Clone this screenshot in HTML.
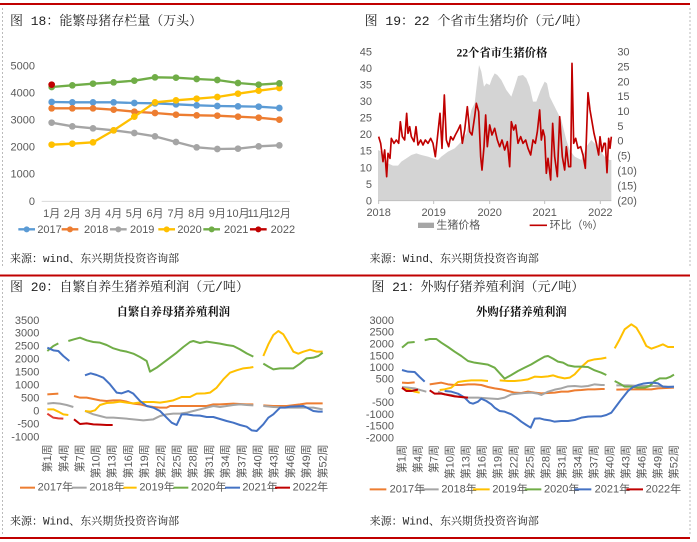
<!DOCTYPE html>
<html><head><meta charset="utf-8"><style>
html,body{margin:0;padding:0;background:#fff;}
svg{display:block;font-family:"Liberation Sans","Noto Sans CJK SC",sans-serif;}
.t{font-family:"Liberation Mono","Noto Serif CJK SC",serif;font-size:39px;fill:#222;}
.a{font-size:33px;fill:#595959;}
.s{font-family:"Liberation Mono","Noto Serif CJK SC",serif;font-size:33px;fill:#222;}
.ct{font-family:"Liberation Serif","Noto Serif CJK SC",serif;font-size:34px;font-weight:bold;fill:#111;}
polyline{fill:none;stroke-linejoin:round;}
</style></head><body>
<svg width="697" height="542" viewBox="0 0 697 542" xmlns="http://www.w3.org/2000/svg">
<rect x="0" y="0" width="697" height="542" fill="#fff"/>
<line x1="0" y1="4" x2="690" y2="4" stroke="#c00000" stroke-width="2"/>
<line x1="0" y1="275.5" x2="690" y2="275.5" stroke="#c00000" stroke-width="2"/>
<line x1="0" y1="538" x2="690" y2="538" stroke="#c00000" stroke-width="2"/>
<line x1="2.5" y1="8" x2="2.5" y2="268" stroke="#bbb" stroke-dasharray="2,2"/>
<line x1="2.5" y1="280" x2="2.5" y2="534" stroke="#bbb" stroke-dasharray="2,2"/>
<line x1="690" y1="8" x2="690" y2="268" stroke="#bbb" stroke-dasharray="2,2"/>
<line x1="690" y1="280" x2="690" y2="534" stroke="#bbb" stroke-dasharray="2,2"/>

<!-- Panel 1 -->
<g transform="scale(0.33333)">
<text class="t" x="30" y="75">图 18：能繁母猪存栏量（万头）</text>
<g class="a" text-anchor="end">
<text x="105" y="208">5000</text><text x="105" y="289">4000</text><text x="105" y="371">3000</text>
<text x="105" y="452">2000</text><text x="105" y="533">1000</text><text x="105" y="615">0</text></g>
<line x1="125" y1="604" x2="870" y2="604" stroke="#d9d9d9" stroke-width="3"/>
<g class="a" text-anchor="middle">
<text x="155" y="651">1月</text><text x="217" y="651">2月</text><text x="279" y="651">3月</text><text x="341" y="651">4月</text>
<text x="403" y="651">5月</text><text x="465" y="651">6月</text><text x="528" y="651">7月</text><text x="590" y="651">8月</text>
<text x="652" y="651">9月</text><text x="714" y="651">10月</text><text x="776" y="651">11月</text><text x="838" y="651">12月</text></g>
<g stroke-width="7">
<polyline stroke="#5b9bd5" points="155,306 217,307 279,307 341,307 403,309 465,310 528,313 590,316 652,318 714,319 776,320 838,324"/>
<polyline stroke="#ed7d31" points="155,325 217,325 279,325 341,329 403,335 465,339 528,344 590,346 652,347 714,350 776,353 838,359"/>
<polyline stroke="#a5a5a5" points="155,368 217,379 279,385 341,391 403,399 465,409 528,426 590,442 652,447 714,446 776,439 838,436"/>
<polyline stroke="#ffc000" points="155,434 217,431 279,427 341,391 403,350 465,307 528,301 590,296 652,291 714,281 776,272 838,264"/>
<polyline stroke="#70ad47" points="155,261 217,256 279,251 341,247 403,242 465,232 528,233 590,237 652,240 714,249 776,254 838,250"/>
</g>
<g fill="#5b9bd5"><circle cx="155" cy="306" r="10"/><circle cx="217" cy="307" r="10"/><circle cx="279" cy="307" r="10"/><circle cx="341" cy="307" r="10"/><circle cx="403" cy="309" r="10"/><circle cx="465" cy="310" r="10"/><circle cx="528" cy="313" r="10"/><circle cx="590" cy="316" r="10"/><circle cx="652" cy="318" r="10"/><circle cx="714" cy="319" r="10"/><circle cx="776" cy="320" r="10"/><circle cx="838" cy="324" r="10"/></g>
<g fill="#ed7d31"><circle cx="155" cy="325" r="10"/><circle cx="217" cy="325" r="10"/><circle cx="279" cy="325" r="10"/><circle cx="341" cy="329" r="10"/><circle cx="403" cy="335" r="10"/><circle cx="465" cy="339" r="10"/><circle cx="528" cy="344" r="10"/><circle cx="590" cy="346" r="10"/><circle cx="652" cy="347" r="10"/><circle cx="714" cy="350" r="10"/><circle cx="776" cy="353" r="10"/><circle cx="838" cy="359" r="10"/></g>
<g fill="#a5a5a5"><circle cx="155" cy="368" r="10"/><circle cx="217" cy="379" r="10"/><circle cx="279" cy="385" r="10"/><circle cx="341" cy="391" r="10"/><circle cx="403" cy="399" r="10"/><circle cx="465" cy="409" r="10"/><circle cx="528" cy="426" r="10"/><circle cx="590" cy="442" r="10"/><circle cx="652" cy="447" r="10"/><circle cx="714" cy="446" r="10"/><circle cx="776" cy="439" r="10"/><circle cx="838" cy="436" r="10"/></g>
<g fill="#ffc000"><circle cx="155" cy="434" r="10"/><circle cx="217" cy="431" r="10"/><circle cx="279" cy="427" r="10"/><circle cx="341" cy="391" r="10"/><circle cx="403" cy="350" r="10"/><circle cx="465" cy="307" r="10"/><circle cx="528" cy="301" r="10"/><circle cx="590" cy="296" r="10"/><circle cx="652" cy="291" r="10"/><circle cx="714" cy="281" r="10"/><circle cx="776" cy="272" r="10"/><circle cx="838" cy="264" r="10"/></g>
<g fill="#70ad47"><circle cx="155" cy="261" r="10"/><circle cx="217" cy="256" r="10"/><circle cx="279" cy="251" r="10"/><circle cx="341" cy="247" r="10"/><circle cx="403" cy="242" r="10"/><circle cx="465" cy="232" r="10"/><circle cx="528" cy="233" r="10"/><circle cx="590" cy="237" r="10"/><circle cx="652" cy="240" r="10"/><circle cx="714" cy="249" r="10"/><circle cx="776" cy="254" r="10"/><circle cx="838" cy="250" r="10"/></g>
<circle cx="155" cy="254" r="10" fill="#c00000"/>
<g class="a" font-size="34">
<line x1="55" y1="688" x2="105" y2="688" stroke="#5b9bd5" stroke-width="7"/><circle cx="80" cy="688" r="9" fill="#5b9bd5"/><text x="112" y="699">2017</text>
<line x1="185" y1="688" x2="235" y2="688" stroke="#ed7d31" stroke-width="7"/><circle cx="210" cy="688" r="9" fill="#ed7d31"/><text x="252" y="699">2018</text>
<line x1="330" y1="688" x2="380" y2="688" stroke="#a5a5a5" stroke-width="7"/><circle cx="355" cy="688" r="9" fill="#a5a5a5"/><text x="390" y="699">2019</text>
<line x1="475" y1="688" x2="525" y2="688" stroke="#ffc000" stroke-width="7"/><circle cx="500" cy="688" r="9" fill="#ffc000"/><text x="532" y="699">2020</text>
<line x1="610" y1="688" x2="660" y2="688" stroke="#70ad47" stroke-width="7"/><circle cx="635" cy="688" r="9" fill="#70ad47"/><text x="672" y="699">2021</text>
<line x1="750" y1="688" x2="800" y2="688" stroke="#c00000" stroke-width="7"/><circle cx="775" cy="688" r="9" fill="#c00000"/><text x="812" y="699">2022</text>
</g>
<text class="s" x="30" y="786">来源：wind、东兴期货投资咨询部</text>
</g>

<!-- Panel 2 -->
<g transform="translate(348,0) scale(0.33333)">
<text class="t" x="50" y="75">图 19：22 个省市生猪均价（元/吨）</text>
<polygon fill="#d4d4d4" points="90,602 90,450 100,455 110,470 120,490 135,497 150,497 160,485 175,475 190,465 205,460 220,465 240,470 255,475 270,480 280,470 300,455 320,445 340,425 355,400 370,330 380,310 388,240 393,195 400,215 408,260 415,250 425,255 432,235 440,220 448,225 460,240 475,270 490,290 500,260 510,228 525,225 535,235 545,260 555,305 565,305 578,270 590,245 597,250 605,290 615,310 625,330 640,360 655,420 665,450 680,470 700,480 715,440 730,420 740,430 755,450 770,470 785,480 790,480 790,602"/>
<g class="a" text-anchor="end">
<text x="72" y="166">45</text><text x="72" y="216">40</text><text x="72" y="265">35</text><text x="72" y="315">30</text><text x="72" y="365">25</text>
<text x="72" y="414">20</text><text x="72" y="464">15</text><text x="72" y="514">10</text><text x="72" y="564">5</text><text x="72" y="613">0</text></g>
<g class="a"><text x="808" y="166">30</text><text x="808" y="211">25</text><text x="808" y="256">20</text><text x="808" y="300">15</text><text x="808" y="345">10</text><text x="808" y="390">5</text><text x="808" y="434">0</text></g>
<g class="a" fill="#ff5050"><text x="808" y="479">(5)</text><text x="808" y="524">(10)</text><text x="808" y="569">(15)</text><text x="808" y="613">(20)</text></g>
<line x1="90" y1="602" x2="790" y2="602" stroke="#bfbfbf" stroke-width="3"/>
<g stroke="#bfbfbf" stroke-width="3"><line x1="92" y1="602" x2="92" y2="612"/><line x1="257" y1="602" x2="257" y2="612"/><line x1="425" y1="602" x2="425" y2="612"/><line x1="590" y1="602" x2="590" y2="612"/><line x1="757" y1="602" x2="757" y2="612"/></g>
<g class="a" text-anchor="middle"><text x="92" y="648">2018</text><text x="257" y="648">2019</text><text x="425" y="648">2020</text><text x="590" y="648">2021</text><text x="757" y="648">2022</text></g>
<text class="ct" x="462" y="170" text-anchor="middle">22个省市生猪价格</text>
<polyline stroke="#c00000" stroke-width="5" points="92,410 98,430 105,485 110,450 116,530 120,460 126,475 130,415 138,430 145,420 152,430 157,365 163,410 170,420 176,340 180,400 185,380 190,410 198,425 204,380 210,435 218,420 225,435 232,420 240,430 248,415 255,430 262,470 268,415 276,340 282,445 289,285 295,420 302,440 308,410 315,420 322,405 330,390 337,375 343,430 350,390 358,320 365,395 372,405 380,350 385,310 392,335 398,470 402,510 408,440 413,345 418,440 425,375 432,405 440,385 448,420 455,440 462,420 470,450 478,425 485,500 490,365 497,390 503,375 510,430 518,410 525,430 533,420 540,445 548,465 555,420 562,430 568,395 575,330 580,420 585,390 590,410 595,520 600,475 608,540 614,370 620,470 628,530 635,350 643,470 650,510 655,440 662,500 668,500 672,190 677,430 683,415 690,445 698,440 705,465 712,505 720,278 726,330 732,365 738,400 745,430 752,465 756,410 762,455 768,430 772,430 777,518 782,415 786,445 790,410"/>
<rect x="210" y="668" width="48" height="16" fill="#a6a6a6"/><text class="a" x="265" y="686" font-size="30">生猪价格</text>
<line x1="545" y1="676" x2="597" y2="676" stroke="#c00000" stroke-width="5"/><text class="a" x="605" y="686" font-size="30">环比（%）</text>
<text class="s" x="65" y="786">来源：Wind、东兴期货投资咨询部</text>
</g>

<!-- Panel 3 -->
<g transform="translate(0,271) scale(0.33333)">
<text class="t" x="30" y="60">图 20：自繁自养生猪养殖利润（元/吨）</text>
<text class="ct" x="520" y="133" text-anchor="middle">自繁自养母猪养殖利润</text>
<g class="a" text-anchor="end">
<text x="118" y="159">3500</text><text x="118" y="197">3000</text><text x="118" y="236">2500</text><text x="118" y="275">2000</text><text x="118" y="314">1500</text>
<text x="118" y="353">1000</text><text x="118" y="392">500</text><text x="118" y="430">0</text><text x="118" y="469">-500</text><text x="118" y="508">-1000</text></g>
<g class="a" font-size="31" text-anchor="end">
<text transform="translate(153,520) rotate(-90)">第1周</text><text transform="translate(202,520) rotate(-90)">第4周</text><text transform="translate(250,520) rotate(-90)">第7周</text><text transform="translate(299,520) rotate(-90)">第10周</text><text transform="translate(347,520) rotate(-90)">第13周</text><text transform="translate(396,520) rotate(-90)">第16周</text><text transform="translate(444,520) rotate(-90)">第19周</text><text transform="translate(493,520) rotate(-90)">第22周</text><text transform="translate(542,520) rotate(-90)">第25周</text><text transform="translate(590,520) rotate(-90)">第28周</text><text transform="translate(639,520) rotate(-90)">第31周</text><text transform="translate(687,520) rotate(-90)">第34周</text><text transform="translate(736,520) rotate(-90)">第37周</text><text transform="translate(784,520) rotate(-90)">第40周</text><text transform="translate(833,520) rotate(-90)">第43周</text><text transform="translate(882,520) rotate(-90)">第46周</text><text transform="translate(930,520) rotate(-90)">第49周</text><text transform="translate(979,520) rotate(-90)">第52周</text></g>
<g stroke-width="6">
<polyline stroke="#ed7d31" points="142,370 175,368"/>
<polyline stroke="#ed7d31" points="222,375 240,380 260,380 300,388 320,390 340,388 360,388 380,392 400,398 420,400 440,405 460,408 480,410 500,410 510,405 540,405 580,405 620,405 640,400 660,400 700,398 740,400 760,400"/>
<polyline stroke="#ed7d31" points="790,403 820,405 860,405 900,400 920,397 968,397"/>
<polyline stroke="#a5a5a5" points="142,398 160,396 180,398 200,402 220,408"/>
<polyline stroke="#a5a5a5" points="255,420 280,430 300,435 320,440 340,440 370,442 400,445 430,448 460,445 480,435 500,430 520,428 540,428 560,425 580,420 600,415 620,410 640,405 660,408 680,405 700,402 720,400 740,402 760,403"/>
<polyline stroke="#a5a5a5" points="790,405 820,408 860,410 900,410 940,410 968,415"/>
<polyline stroke="#ffc000" points="142,415 160,415 175,422 190,430 205,432"/>
<polyline stroke="#ffc000" points="255,420 270,422 285,418 300,402 320,396 340,395 360,392 380,395 400,397 430,393 460,393 480,395 500,392 520,388 545,378 570,378 590,368 615,367 630,365 650,350 670,325 690,305 710,298 730,292 750,290 760,288"/>
<polyline stroke="#ffc000" points="790,255 805,220 820,192 835,180 850,190 865,215 880,242 895,248 910,242 930,236 950,242 968,242"/>
<polyline stroke="#70ad47" points="142,240 160,225 175,217"/>
<polyline stroke="#70ad47" points="205,210 222,205 240,200 260,208 280,213 300,215 320,222 340,232 360,238 380,242 400,248 420,258 440,270 450,302 470,290 490,275 510,260 530,245 550,228 570,213 580,210 600,216 620,212 640,215 660,218 680,222 700,225 720,235 740,247 760,257"/>
<polyline stroke="#70ad47" points="790,278 805,287 820,295 840,292 860,292 880,292 900,278 920,262 940,260 955,255 968,245"/>
<polyline stroke="#4472c4" points="142,230 160,238 175,240 190,255 208,270"/>
<polyline stroke="#4472c4" points="255,313 272,307 290,312 310,320 330,340 350,365 365,367 385,360 400,368 420,390 440,405 460,410 480,420 500,440 515,455 530,462 545,430 560,430 580,433 600,434 620,438 640,438 660,444 680,450 700,455 720,462 740,467 755,478 770,480 790,460 805,440 820,430 840,410 855,410 870,407 890,406 910,405 925,412 940,420 955,422 968,422"/>
<polyline stroke="#e03c31" points="142,428 160,440 175,442 190,443"/>
<polyline stroke="#c00000" points="222,445 240,459 260,457 280,460 300,461 320,462 338,462"/>
</g>
<g class="a" font-size="26">
<line x1="60" y1="650" x2="105" y2="650" stroke="#ed7d31" stroke-width="6"/><text x="113" y="659">2017年</text>
<line x1="215" y1="650" x2="260" y2="650" stroke="#a5a5a5" stroke-width="6"/><text x="268" y="659">2018年</text>
<line x1="370" y1="650" x2="410" y2="650" stroke="#ffc000" stroke-width="6"/><text x="418" y="659">2019年</text>
<line x1="520" y1="650" x2="565" y2="650" stroke="#70ad47" stroke-width="6"/><text x="573" y="659">2020年</text>
<line x1="675" y1="650" x2="720" y2="650" stroke="#4472c4" stroke-width="6"/><text x="727" y="659">2021年</text>
<line x1="825" y1="650" x2="870" y2="650" stroke="#c00000" stroke-width="6"/><text x="878" y="659">2022年</text>
</g>
<text class="s" x="30" y="760">来源：Wind、东兴期货投资咨询部</text>
</g>

<!-- Panel 4 -->
<g transform="translate(348,271) scale(0.33333)">
<text class="t" x="70" y="60">图 21：外购仔猪养殖利润（元/吨）</text>
<text class="ct" x="520" y="133" text-anchor="middle">外购仔猪养殖利润</text>
<g class="a" text-anchor="end">
<text x="138" y="159">3000</text><text x="138" y="194">2500</text><text x="138" y="229">2000</text><text x="138" y="265">1500</text><text x="138" y="300">1000</text>
<text x="138" y="335">500</text><text x="138" y="370">0</text><text x="138" y="405">-500</text><text x="138" y="441">-1000</text><text x="138" y="476">-1500</text><text x="138" y="511">-2000</text></g>
<g class="a" font-size="31" text-anchor="end">
<text transform="translate(173,522) rotate(-90)">第1周</text><text transform="translate(221,522) rotate(-90)">第4周</text><text transform="translate(269,522) rotate(-90)">第7周</text><text transform="translate(317,522) rotate(-90)">第10周</text><text transform="translate(365,522) rotate(-90)">第13周</text><text transform="translate(413,522) rotate(-90)">第16周</text><text transform="translate(461,522) rotate(-90)">第19周</text><text transform="translate(509,522) rotate(-90)">第22周</text><text transform="translate(557,522) rotate(-90)">第25周</text><text transform="translate(605,522) rotate(-90)">第28周</text><text transform="translate(653,522) rotate(-90)">第31周</text><text transform="translate(701,522) rotate(-90)">第34周</text><text transform="translate(749,522) rotate(-90)">第37周</text><text transform="translate(797,522) rotate(-90)">第40周</text><text transform="translate(845,522) rotate(-90)">第43周</text><text transform="translate(893,522) rotate(-90)">第46周</text><text transform="translate(941,522) rotate(-90)">第49周</text><text transform="translate(989,522) rotate(-90)">第52周</text></g>
<g stroke-width="6">
<polyline stroke="#ed7d31" points="162,335 180,336 200,334"/>
<polyline stroke="#ed7d31" points="245,340 260,338 280,335 300,340 320,342 340,342 360,340 380,340 400,342 420,348 440,352 460,355 480,360 500,365 520,366 540,362 560,365 580,367 600,366 620,365 640,362 660,362 680,358 700,357 720,355 740,355 760,354 770,354"/>
<polyline stroke="#ed7d31" points="805,356 840,355 880,355 910,355 930,352 978,350"/>
<polyline stroke="#a5a5a5" points="162,348 180,350 200,352 220,358 235,362"/>
<polyline stroke="#a5a5a5" points="270,362 290,370 310,372 330,377 350,380 370,380 390,380 420,382 450,384 470,380 490,370 510,368 530,366 550,365 570,368 580,372 600,362 620,356 640,352 660,346 680,345 700,347 720,345 740,340 760,342 770,342"/>
<polyline stroke="#a5a5a5" points="805,343 840,343 880,345 920,345 978,348"/>
<polyline stroke="#ffc000" points="162,352 180,355 200,362 215,365"/>
<polyline stroke="#ffc000" points="275,357 290,355 310,350 330,333 350,330 370,328 400,328 420,330"/>
<polyline stroke="#ffc000" points="455,328 480,330 500,330 520,328 540,325 560,317 580,318 600,316 615,313 630,318 650,322 665,320 680,310 700,288 720,270 740,265 760,263 775,260"/>
<polyline stroke="#ffc000" points="800,232 815,205 830,175 850,160 865,170 880,195 895,225 910,233 930,226 945,220 960,228 978,228"/>
<polyline stroke="#70ad47" points="162,230 180,215 200,213"/>
<polyline stroke="#70ad47" points="230,208 245,204 265,204 280,215 300,228 320,242 340,255 360,270 380,275 400,278 420,281 440,290 470,323 490,312 510,300 530,290 550,280 570,268 590,257 600,255 615,263 630,272 645,275 660,283 680,287 700,287 720,288 740,298 760,305 775,312"/>
<polyline stroke="#70ad47" points="800,330 815,338 830,347 850,347 870,350 890,350 905,345 920,330 935,322 955,322 968,317 978,311"/>
<polyline stroke="#4472c4" points="162,297 180,302 200,303 215,318 230,332"/>
<polyline stroke="#4472c4" points="290,360 310,362 330,368 350,380 365,395 375,398 390,392 400,383 415,390 430,400 440,410 455,420 470,422 490,430 505,440 520,452 535,462 548,470 560,443 575,442 590,446 605,448 620,452 640,450 660,450 680,447 700,440 720,437 740,436 760,436 775,432 790,425 805,405 820,385 840,360 855,348 870,342 885,338 900,336 915,335 930,337 945,347 960,348 978,347"/>
<polyline stroke="#c00000" points="162,350 175,360 190,360 210,356"/>
<polyline stroke="#c00000" points="245,358 260,368 280,368 300,372 320,376 340,378 360,380"/>
</g>
<g class="a" font-size="26">
<line x1="65" y1="655" x2="115" y2="655" stroke="#ed7d31" stroke-width="6"/><text x="125" y="664">2017年</text>
<line x1="220" y1="655" x2="272" y2="655" stroke="#a5a5a5" stroke-width="6"/><text x="280" y="664">2018年</text>
<line x1="375" y1="655" x2="425" y2="655" stroke="#ffc000" stroke-width="6"/><text x="433" y="664">2019年</text>
<line x1="530" y1="655" x2="580" y2="655" stroke="#70ad47" stroke-width="6"/><text x="588" y="664">2020年</text>
<line x1="680" y1="655" x2="730" y2="655" stroke="#4472c4" stroke-width="6"/><text x="740" y="664">2021年</text>
<line x1="835" y1="655" x2="885" y2="655" stroke="#c00000" stroke-width="6"/><text x="893" y="664">2022年</text>
</g>
<text class="s" x="65" y="760">来源：Wind、东兴期货投资咨询部</text>
</g>
</svg>
</body></html>
